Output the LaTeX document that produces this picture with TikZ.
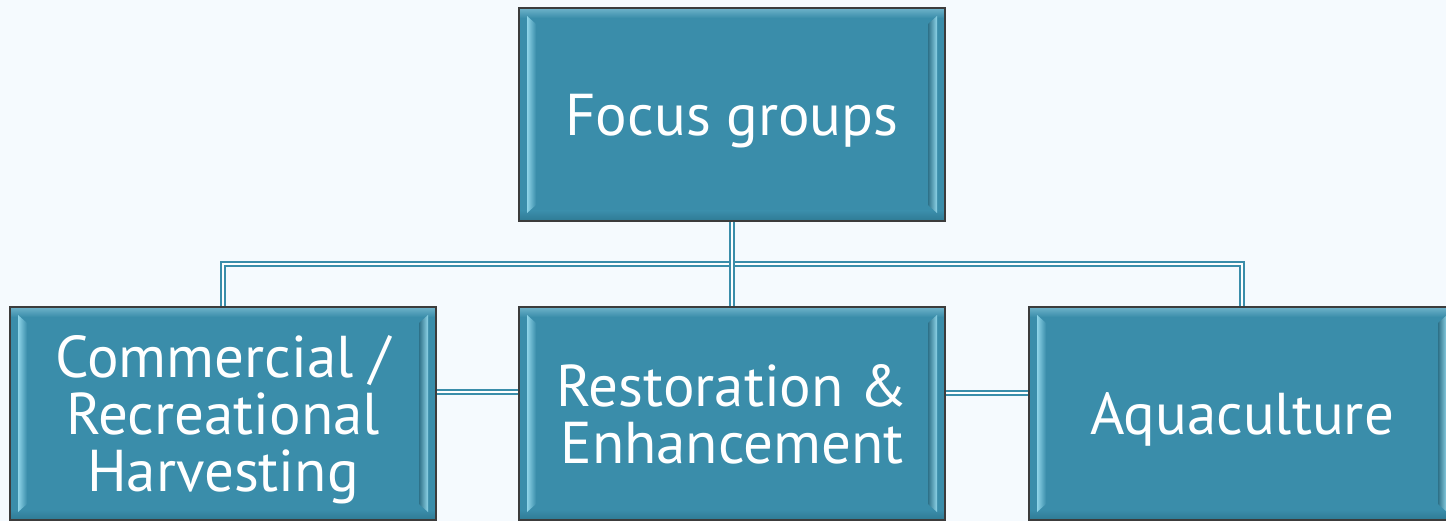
\documentclass[tikz,border=0pt]{standalone}
\usepackage{fontspec}
\setmainfont{PT Sans}
\definecolor{boxfill}{HTML}{3A8DAA}
\definecolor{boxtop}{HTML}{6FB3CA}
\definecolor{bevlight}{HTML}{CFF8FF}
\definecolor{bevmid}{HTML}{8ED4E8}
\definecolor{boxbot}{HTML}{2F7A94}
\definecolor{bg}{HTML}{F5FAFE}
\definecolor{connc}{HTML}{3A8DAA}
\definecolor{bord}{HTML}{3C3C3C}
\begin{document}
\begin{tikzpicture}[x=1pt,y=-1pt,
  fbox/.style={draw=bord, line width=1.5pt, fill=boxfill, minimum width=426pt, minimum height=213pt,
    inner sep=0pt, text=white, font=\fontsize{59}{57}\selectfont, align=center, text depth=0pt,
    path picture={
      \path (path picture bounding box.north west) coordinate (nw)
            (path picture bounding box.south east) coordinate (se);
      \shade[top color=boxtop, bottom color=boxfill] (nw) rectangle ([yshift=-10pt]nw -| se);
      \shade[top color=boxfill, bottom color=boxbot] ([yshift=10pt]nw |- se) rectangle (se);
      \shade[left color=bevmid, middle color=bevlight, right color=boxfill]
        ([xshift=8pt,yshift=-8pt]nw) -- ([xshift=17pt,yshift=-16pt]nw) -- ([xshift=17pt,yshift=16pt]nw |- se) -- ([xshift=8pt,yshift=8pt]nw |- se) -- cycle;
      \shade[left color=boxfill!80!black, middle color=bevlight, right color=bevmid]
        ([xshift=-8pt,yshift=-8pt]se |- nw) -- ([xshift=-17pt,yshift=-16pt]se |- nw) -- ([xshift=-17pt,yshift=16pt]se) -- ([xshift=-8pt,yshift=8pt]se) -- cycle;
    }},
  connl/.style={draw=connc, line width=2pt, double=white, double distance=2pt}
]
\fill[bg] (0,0) rectangle (1446,521);
\useasboundingbox (0,0) rectangle (1446,521);

\node[fbox] (top) at (732,114.5) {Focus groups};
\node[fbox] (left) at (223,413.5) {Commercial /\\Recreational\\Harvesting};
\node[fbox] (mid) at (732,413.5) {Restoration \&\\Enhancement};
\node[fbox] (right) at (1242,413.5) {Aquaculture};

\coordinate (j) at (732,264.5);
\draw[connl] (left.north) |- (right.north |- j) -- (right.north);
\draw[connl] (top.south) -- (mid.north);
\draw[connl] ([yshift=22pt]left.east) -- ([yshift=22pt]mid.west);
\draw[connl] ([yshift=21pt]mid.east) -- ([yshift=21pt]right.west);
\end{tikzpicture}
\end{document}
